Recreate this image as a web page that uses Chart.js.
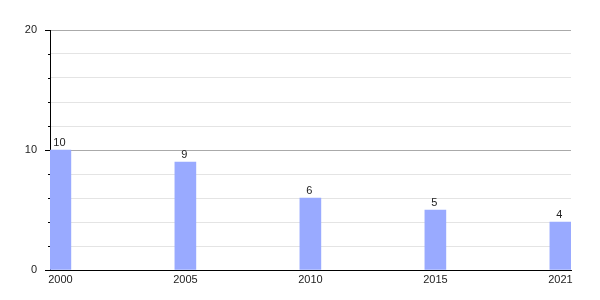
<!DOCTYPE html>
<html>
<head>
<meta charset="utf-8">
<script src="https://cdn.jsdelivr.net/npm/chart.js@4"></script>
<style>
html,body{margin:0;padding:0;background:#fff;}
#c{display:block;}
</style>
</head>
<body>
<canvas id="c" width="600" height="300"></canvas>
<script>
const categories = ['2000', '2005', '2010', '2015', '2021'];
const values = [10, 9, 6, 5, 4];
const yTickLabels = [0, 10, 20];

const FONT = '"Liberation Sans", Arial, sans-serif';

const valueLabels = {
  id: 'valueLabels',
  afterDatasetsDraw(chart) {
    const ctx = chart.ctx;
    const meta = chart.getDatasetMeta(0);
    ctx.save();
    ctx.font = '11px ' + FONT;
    ctx.fillStyle = '#222';
    ctx.textAlign = 'center';
    ctx.textBaseline = 'bottom';
    meta.data.forEach((bar, i) => {
      ctx.fillText(String(values[i]), bar.x - 1, bar.y - 2);
    });
    ctx.restore();
  },
  afterDraw(chart) {
    const ctx = chart.ctx;
    const y = chart.scales.y;
    ctx.save();
    ctx.strokeStyle = '#000';
    ctx.lineWidth = 1;
    y.ticks.forEach(t => {
      if (!yTickLabels.includes(t.value)) {
        const py = Math.round(y.getPixelForValue(t.value)) + 0.5;
        ctx.beginPath();
        ctx.moveTo(y.right - 2, py);
        ctx.lineTo(y.right, py);
        ctx.stroke();
      }
    });
    ctx.restore();
  }
};

new Chart(document.getElementById('c'), {
  type: 'bar',
  data: {
    datasets: [{
      data: values.map((v, i) => ({ x: i, y: v })),
      backgroundColor: '#99aaff',
      barThickness: 21,
      borderWidth: 0
    }]
  },
  options: {
    responsive: false,
    animation: false,
    plugins: { legend: { display: false }, tooltip: { enabled: false } },
    layout: { padding: { top: 30, right: 29, left: 0, bottom: 0 } },
    scales: {
      x: {
        type: 'linear',
        offset: false,
        min: -0.083,
        max: 4.085,
        afterBuildTicks: s => { s.ticks = categories.map((c, i) => ({ value: i })); },
        afterFit: s => { s.height = 30; },
        grid: { display: false, drawTicks: false, offset: false },
        border: { display: true, color: '#000', width: 1 },
        ticks: {
          padding: 3,
          maxRotation: 0,
          autoSkip: false,
          color: '#222',
          font: { family: FONT, size: 11 },
          callback: v => categories[v] ?? ''
        }
      },
      y: {
        min: 0,
        max: 20,
        afterFit: s => { s.width = 50; },
        grid: {
          color: c => (c.tick && c.tick.value % 10 === 0) ? '#aaaaaa' : '#e4e4e4',
          tickColor: c => (c.tick && yTickLabels.includes(c.tick.value)) ? '#000' : 'rgba(0,0,0,0)',
          tickLength: 5
        },
        border: { display: true, color: '#000', width: 1 },
        ticks: {
          stepSize: 2,
          padding: 8,
          color: '#222',
          font: { family: FONT, size: 11 },
          callback: v => yTickLabels.includes(v) ? String(v) : ''
        }
      }
    }
  },
  plugins: [valueLabels]
});
</script>
</body>
</html>
